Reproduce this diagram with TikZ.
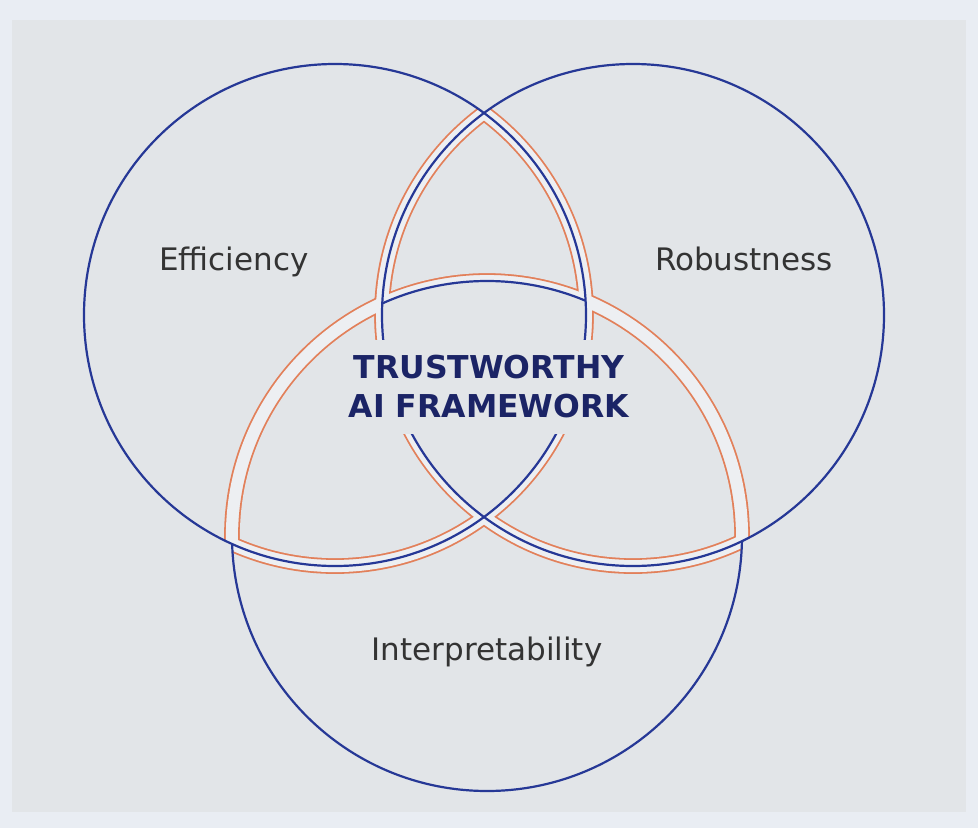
\documentclass[tikz,border=0pt]{standalone}
\usepackage{fontspec}
\setmainfont{DejaVu Sans}
\usepackage{xcolor}
\usepackage{tikz}
\usetikzlibrary{positioning}
\definecolor{pagebg}{RGB}{233,237,243}
\definecolor{panelgray}{RGB}{226,229,232}
\definecolor{bandgray}{RGB}{237,239,242}
\definecolor{vennblue}{RGB}{38,56,150}
\definecolor{overlaporange}{RGB}{226,128,90}
\definecolor{labelgray}{RGB}{51,51,51}
\definecolor{titlenavy}{RGB}{27,36,102}
\newcommand{\rLR}{251}
\newcommand{\rB}{255}
\newcommand{\dIn}{6.1}
\newcommand{\dOut}{7.9}

\begin{document}
\begin{tikzpicture}[
    x=1pt, y=-1pt,
    circ/.style={draw=vennblue, line width=2.2pt},
    setlabel/.style={font=\fontsize{31}{37}\selectfont, text=labelgray, anchor=base},
    centertitle/.style={font=\fontsize{31.5}{39}\selectfont\bfseries, text=titlenavy, align=center, fill=panelgray, inner xsep=6pt, inner ysep=16pt}
]
% background and panel
\fill[pagebg] (0,0) rectangle (978,828);
\fill[panelgray] (12,20) rectangle (966,812);
\useasboundingbox (0,0) rectangle (978,828);

\coordinate (eff) at (335,315);
\coordinate (rob) at (633,315);
\coordinate (int) at (487,536);

% outer outline of the overlap area
\foreach \ca/\ra/\cb/\rb in {eff/\rLR/rob/\rLR, eff/\rLR/int/\rB, rob/\rLR/int/\rB} {
  \begin{scope}
    \clip (\ca) circle[radius=\ra+\dOut];
    \clip (\cb) circle[radius=\rb+\dOut];
    \fill[overlaporange] (0,0) rectangle (978,828);
  \end{scope}
}
\foreach \ca/\ra/\cb/\rb in {eff/\rLR/rob/\rLR, eff/\rLR/int/\rB, rob/\rLR/int/\rB} {
  \begin{scope}
    \clip (\ca) circle[radius=\ra+\dIn];
    \clip (\cb) circle[radius=\rb+\dIn];
    \fill[bandgray] (0,0) rectangle (978,828);
  \end{scope}
}

% centre region
\begin{scope}
  \clip (eff) circle[radius=\rLR];
  \clip (rob) circle[radius=\rLR];
  \fill[panelgray] (int) circle[radius=\rB];
\end{scope}

% inner outline of each lens
\foreach \ca/\ra/\cb/\rb/\cc/\rc in {eff/\rLR/rob/\rLR/int/\rB, eff/\rLR/int/\rB/rob/\rLR, rob/\rLR/int/\rB/eff/\rLR} {
  \begin{scope}
    \clip (\ca) circle[radius=\ra-\dIn];
    \clip (\cb) circle[radius=\rb-\dIn];
    \fill[overlaporange, even odd rule] (0,0) rectangle (978,828) (\cc) circle[radius=\rc+\dIn];
  \end{scope}
  \begin{scope}
    \clip (\ca) circle[radius=\ra-\dOut];
    \clip (\cb) circle[radius=\rb-\dOut];
    \fill[panelgray, even odd rule] (0,0) rectangle (978,828) (\cc) circle[radius=\rc+\dOut];
  \end{scope}
}

% open the outline at the three outer corners
\fill[panelgray] (484,113) -- (464,98) -- (504,98) -- cycle;
\fill[panelgray] (232,544) -- (209,534) -- (233,569) -- cycle;
\fill[panelgray] (742,541) -- (765,530) -- (741,566) -- cycle;

% blue circles on top
\draw[circ] (eff) circle[radius=\rLR];
\draw[circ] (rob) circle[radius=\rLR];
\begin{scope}
  \clip (eff) circle[radius=\rLR];
  \clip (rob) circle[radius=\rLR];
  \draw[circ] (int) circle[radius=\rB];
\end{scope}
\draw[circ] (int) ++(1.1:\rB) arc[start angle=1.1, end angle=178.2, radius=\rB];

% labels
\node[setlabel] (efficiency) at (234,270) {Efficiency};
\node[setlabel] (robustness) at (744,270) {Robustness};
\node[setlabel] (interpret) at (487,660) {Interpretability};
\node[centertitle] (framework) at (489,387) {TRUSTWORTHY\\AI FRAMEWORK};
\end{tikzpicture}
\end{document}
